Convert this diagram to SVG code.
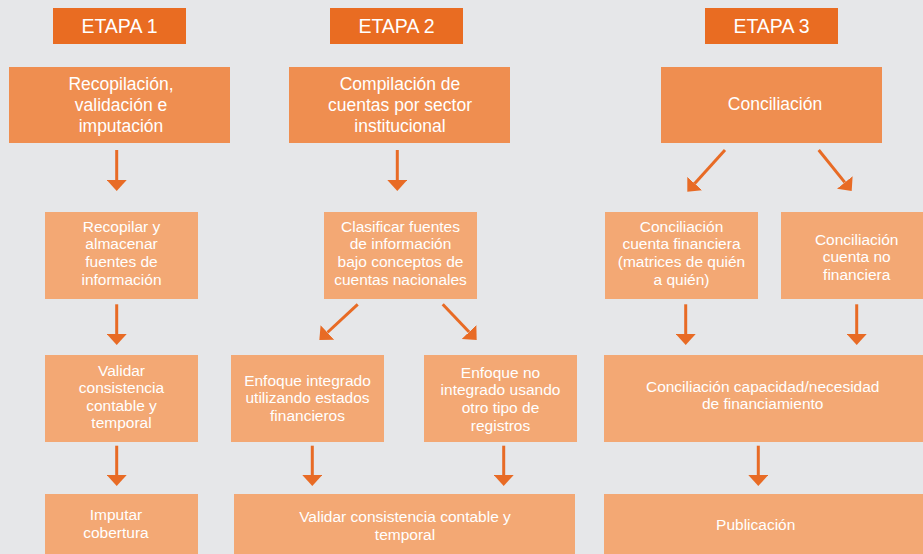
<svg xmlns="http://www.w3.org/2000/svg" width="923" height="554" viewBox="0 0 923 554">
<style>
.hd{fill:#E96C22}
.l1{fill:#EF8E50}
.l2{fill:#F3A874}
text{font-family:"Liberation Sans",Arial,sans-serif;fill:#FFFFFF;text-anchor:middle}
.th{font-size:19.5px}
.t1{font-size:17.5px}
.t2{font-size:15.5px}
.ar{stroke:#E86B25;stroke-width:3;fill:none;marker-end:url(#ah)}
</style>
<defs>
<marker id="ah" viewBox="0 0 11 20" refX="0" refY="10" markerWidth="11" markerHeight="20" markerUnits="userSpaceOnUse" orient="auto">
<path d="M0,0 L11,10 L0,20 z" fill="#E86B25"/>
</marker>
</defs>
<rect width="923" height="554" fill="#E6E7E9"/>

<g id="etapa1"><rect class="hd" x="53" y="8" width="133" height="36"/><text class="th" x="119.5" y="33">ETAPA 1</text></g>
<g id="etapa2"><rect class="hd" x="330" y="8" width="133" height="36"/><text class="th" x="396.5" y="33">ETAPA 2</text></g>
<g id="etapa3"><rect class="hd" x="705" y="8" width="133" height="36"/><text class="th" x="771.5" y="33">ETAPA 3</text></g>

<g id="recopilacion"><rect class="l1" x="9" y="67" width="221" height="76"/>
<text class="t1" x="121" y="89.5"><tspan x="121">Recopilación,</tspan><tspan x="121" dy="21">validación e</tspan><tspan x="121" dy="21">imputación</tspan></text></g>
<g id="compilacion"><rect class="l1" x="289" y="67" width="221" height="76"/>
<text class="t1" x="400" y="89.5"><tspan x="400">Compilación de</tspan><tspan x="400" dy="21">cuentas por sector</tspan><tspan x="400" dy="21">institucional</tspan></text></g>
<g id="conciliacion"><rect class="l1" x="661" y="67" width="221" height="76"/>
<text class="t1" x="775" y="109.5">Conciliación</text></g>

<g id="recopilar"><rect class="l2" x="45" y="212" width="153" height="87"/>
<text class="t2" x="121.5" y="231.5"><tspan x="121.5">Recopilar y</tspan><tspan x="121.5" dy="17.7">almacenar</tspan><tspan x="121.5" dy="17.7">fuentes de</tspan><tspan x="121.5" dy="17.7">información</tspan></text></g>
<g id="validar1"><rect class="l2" x="45" y="355" width="153" height="87"/>
<text class="t2" x="121.5" y="375.5"><tspan x="121.5">Validar</tspan><tspan x="121.5" dy="17.5">consistencia</tspan><tspan x="121.5" dy="17.5">contable y</tspan><tspan x="121.5" dy="17.5">temporal</tspan></text></g>
<g id="imputar"><rect class="l2" x="45" y="494" width="153" height="60"/>
<text class="t2" x="116" y="519.5"><tspan x="116">Imputar</tspan><tspan x="116" dy="18">cobertura</tspan></text></g>

<g id="clasificar"><rect class="l2" x="324" y="212" width="153" height="87"/>
<text class="t2" x="400.5" y="231.5"><tspan x="400.5">Clasificar fuentes</tspan><tspan x="400.5" dy="17.7">de información</tspan><tspan x="400.5" dy="17.7">bajo conceptos de</tspan><tspan x="400.5" dy="17.7">cuentas nacionales</tspan></text></g>
<g id="integrado"><rect class="l2" x="231" y="355" width="153" height="87"/>
<text class="t2" x="307.5" y="385.5"><tspan x="307.5">Enfoque integrado</tspan><tspan x="307.5" dy="17.7">utilizando estados</tspan><tspan x="307.5" dy="17.7">financieros</tspan></text></g>
<g id="nointegrado"><rect class="l2" x="424" y="355" width="153" height="87"/>
<text class="t2" x="500.5" y="377.8"><tspan x="500.5">Enfoque no</tspan><tspan x="500.5" dy="17.6">integrado usando</tspan><tspan x="500.5" dy="17.6">otro tipo de</tspan><tspan x="500.5" dy="17.6">registros</tspan></text></g>
<g id="validar2"><rect class="l2" x="234" y="494" width="341" height="60"/>
<text class="t2" x="405" y="522"><tspan x="405">Validar consistencia contable y</tspan><tspan x="405" dy="17.6">temporal</tspan></text></g>

<g id="concfin"><rect class="l2" x="605" y="212" width="153" height="87"/>
<text class="t2" x="681.5" y="231.5"><tspan x="681.5">Conciliación</tspan><tspan x="681.5" dy="17.7">cuenta financiera</tspan><tspan x="681.5" dy="17.7">(matrices de quién</tspan><tspan x="681.5" dy="17.7">a quién)</tspan></text></g>
<g id="concnofin"><rect class="l2" x="781" y="212" width="142" height="87"/>
<text class="t2" x="856.7" y="244.5"><tspan x="856.7">Conciliación</tspan><tspan x="856.7" dy="17.5">cuenta no</tspan><tspan x="856.7" dy="17.5">financiera</tspan></text></g>
<g id="capacidad"><rect class="l2" x="604" y="355" width="319" height="87"/>
<text class="t2" x="762.7" y="391.5"><tspan x="762.7">Conciliación capacidad/necesidad</tspan><tspan x="762.7" dy="17.4">de financiamiento</tspan></text></g>
<g id="publicacion"><rect class="l2" x="604" y="494" width="319" height="60"/>
<text class="t2" x="755.7" y="529.8">Publicación</text></g>

<g id="connectors">
<line class="ar" x1="116.7" y1="150" x2="116.7" y2="180"/>
<line class="ar" x1="397.3" y1="150" x2="397.3" y2="180"/>
<line class="ar" x1="725" y1="150" x2="694.7" y2="183.5"/>
<line class="ar" x1="818.7" y1="150" x2="844.8" y2="182.4"/>
<line class="ar" x1="116.7" y1="304.3" x2="116.7" y2="334"/>
<line class="ar" x1="357.7" y1="304.3" x2="327.4" y2="332.5"/>
<line class="ar" x1="442.7" y1="304.3" x2="469.1" y2="332"/>
<line class="ar" x1="685.7" y1="304.3" x2="685.7" y2="334"/>
<line class="ar" x1="856.7" y1="304.3" x2="856.7" y2="334"/>
<line class="ar" x1="116.7" y1="445.7" x2="116.7" y2="475"/>
<line class="ar" x1="312.3" y1="445.7" x2="312.3" y2="475"/>
<line class="ar" x1="503.7" y1="445.7" x2="503.7" y2="475"/>
<line class="ar" x1="758.3" y1="445.7" x2="758.3" y2="475"/>
</g>
</svg>
